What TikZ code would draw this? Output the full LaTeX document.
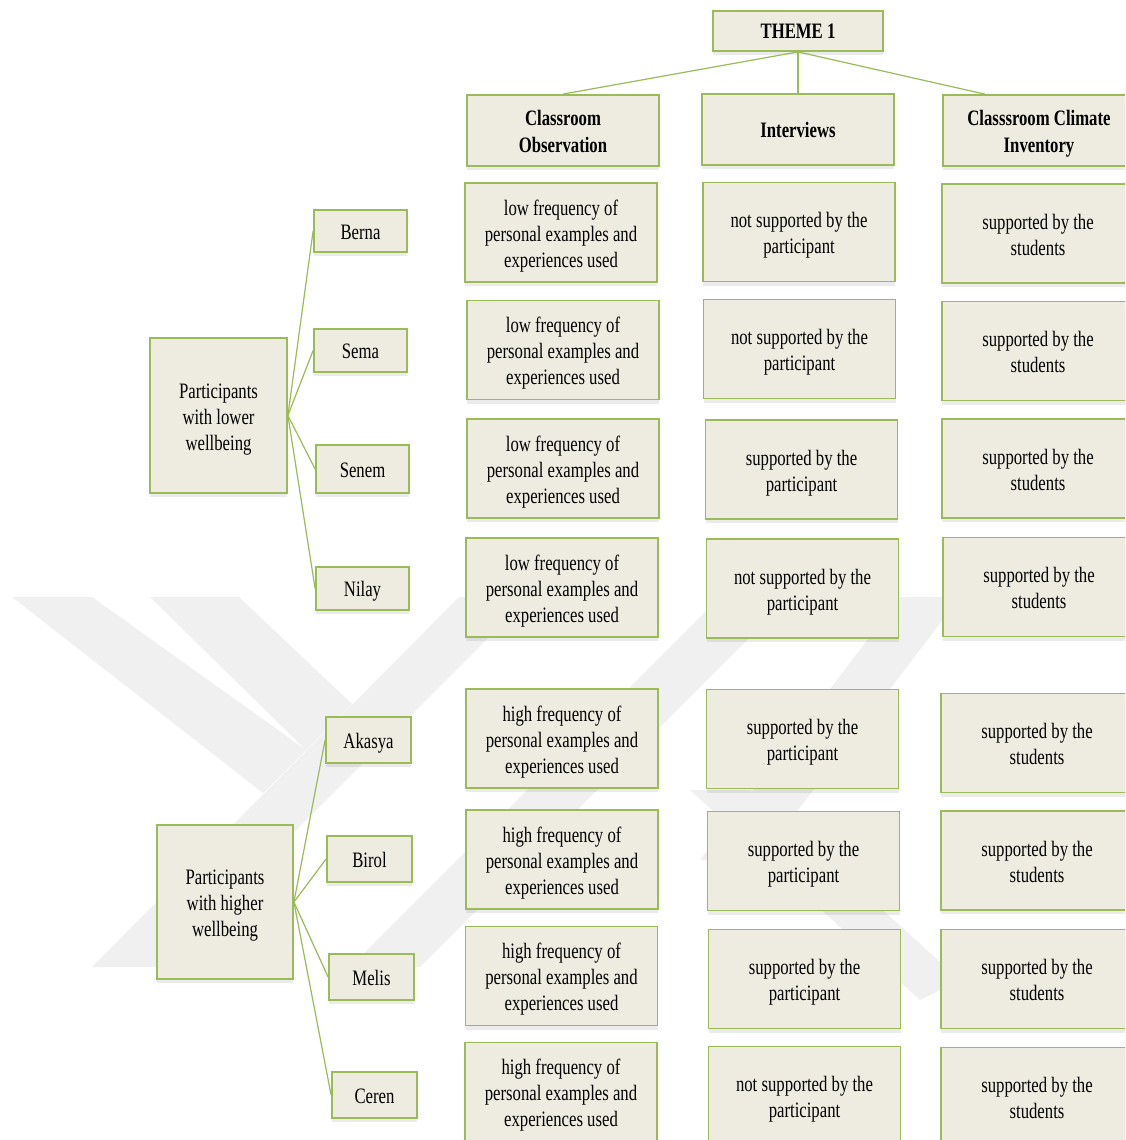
\documentclass[tikz,border=0pt]{standalone}
\usepackage{fontspec}
\setmainfont[FakeStretch=0.76]{Liberation Serif}
\usetikzlibrary{calc,shadows}
\definecolor{cellfill}{HTML}{EEECE1}
\definecolor{cellline}{HTML}{9BBB59}
\definecolor{markgray}{HTML}{F0F0F0}
% struts that fix the height of the first line and the depth of the last one
\newcommand\cellstrut{\rule{0pt}{24pt}}
\newcommand\headstrut{\rule{0pt}{23pt}}
\newcommand\cellend{\rule[-7pt]{0pt}{7pt}}

\begin{document}
\begin{tikzpicture}[x=1pt,y=-1pt,
  oneline/.style={execute at begin node={\rule{0pt}{#1}}, execute at end node={\cellend}},
  cell/.style={draw=cellline, line width=1.8pt, fill=cellfill, align=center,
    inner sep=0pt, minimum width=192pt, minimum height=99pt,
    font=\fontsize{22}{26}\selectfont,
    drop shadow={opacity=0.08, shadow xshift=0pt, shadow yshift=-4pt, fill=black}},
  headbox/.style={cell, minimum height=71pt, font=\bfseries\fontsize{22}{27}\selectfont},
  themebox/.style={cell, minimum width=170pt, minimum height=40pt, oneline=23pt,
    font=\bfseries\fontsize{22}{27}\selectfont},
  namebox/.style={cell, minimum width=93pt, minimum height=43pt, oneline=23.5pt},
  namebox2/.style={namebox, minimum width=85pt, minimum height=46pt},
  grpbox/.style={cell, minimum width=137pt, minimum height=155pt},
  link/.style={draw=cellline, line width=1.2pt},
  band/.style={fill=markgray, draw=none}]

% page frame
\useasboundingbox (0,0) rectangle (1125,1140);
\clip (0,0) rectangle (1125,1140);
\fill[white] (0,0) rectangle (1125,1140);

% faint logo in the background
\fill[band] (12,597) -- (92,597) -- (306,750) -- (263,793) -- cycle;
\fill[band] (150,597) -- (239,597) -- (352,704) -- (306,750) -- cycle;
\fill[band] (92,967) -- (159,967) -- (529,597) -- (459,597) -- cycle;
\fill[band] (350,967) -- (420,967) -- (790,597) -- (720,597) -- cycle;
\fill[band] (700,860) -- (760,860) -- (960,597) -- (900,597) -- cycle;
\fill[band] (690,790) -- (750,790) -- (960,980) -- (920,1000) -- cycle;

% theme and source headers
\node[themebox] (theme) at (798,31) {THEME 1};
\node[headbox] (obs) at (563,130.5) {\headstrut Classroom\\Observation\cellend};
\node[headbox, oneline=22pt] (int) at (798,129.5) {Interviews};
\node[headbox] (cci) at (1039,130.5) {\headstrut Classsroom Climate\\Inventory\cellend};
\coordinate (cciTop) at ($(cci.north west)!0.22!(cci.north east)$);

\draw[link] (theme.south) -- (obs.north);
\draw[link] (theme.south) -- (int.north);
\draw[link] (theme.south) -- (cciTop);

% participant groups
\node[grpbox] (low) at (218.5,415.5) {\cellstrut Participants\\with lower\\wellbeing\cellend};
\node[grpbox, minimum width=136pt, minimum height=154pt] (high) at (225,902) {\cellstrut Participants\\with higher\\wellbeing\cellend};

% participants
\node[namebox, minimum height=42pt] (berna) at (360.5,231) {Berna};
\node[namebox] (sema) at (360.5,350.5) {Sema};
\node[namebox, minimum height=48pt] (senem) at (362.5,469) {Senem};
\node[namebox] (nilay) at (362.5,588.5) {Nilay};
\node[namebox2] (akasya) at (368.5,740) {Akasya};
\node[namebox2] (birol) at (369.5,859) {Birol};
\node[namebox2] (melis) at (371.5,977) {Melis};
\node[namebox2] (ceren) at (374.5,1095) {Ceren};

\foreach \p in {berna,sema,senem,nilay}
  \draw[link] (low.east) -- (\p.west);
\foreach \p in {akasya,birol,melis,ceren}
  \draw[link] (high.east) -- (\p.west);

% classroom observation column
\node[cell] (o1) at (561,232.5) {\cellstrut low frequency of\\personal examples and\\experiences used\cellend};
\node[cell] (o2) at (563,350) {\cellstrut low frequency of\\personal examples and\\experiences used\cellend};
\node[cell] (o3) at (563,468.5) {\cellstrut low frequency of\\personal examples and\\experiences used\cellend};
\node[cell] (o4) at (562,587.5) {\cellstrut low frequency of\\personal examples and\\experiences used\cellend};
\node[cell] (o5) at (562,738.5) {\cellstrut high frequency of\\personal examples and\\experiences used\cellend};
\node[cell] (o6) at (562,859.5) {\cellstrut high frequency of\\personal examples and\\experiences used\cellend};
\node[cell] (o7) at (561.5,976) {\cellstrut high frequency of\\personal examples and\\experiences used\cellend};
\node[cell] (o8) at (561,1092) {\cellstrut high frequency of\\personal examples and\\experiences used\cellend};

% interview column
\node[cell] (i1) at (799,232) {\cellstrut not supported by the\\participant\cellend};
\node[cell] (i2) at (799.5,349) {\cellstrut not supported by the\\participant\cellend};
\node[cell] (i3) at (801.5,469.5) {\cellstrut supported by the\\participant\cellend};
\node[cell] (i4) at (802.5,588.5) {\cellstrut not supported by the\\participant\cellend};
\node[cell] (i5) at (802.5,739) {\cellstrut supported by the\\participant\cellend};
\node[cell] (i6) at (803.5,861) {\cellstrut supported by the\\participant\cellend};
\node[cell] (i7) at (804.5,979) {\cellstrut supported by the\\participant\cellend};
\node[cell] (i8) at (804.5,1096) {\cellstrut not supported by the\\participant\cellend};

% classroom climate inventory column
\node[cell] (c1) at (1038,233.5) {\cellstrut supported by the\\students\cellend};
\node[cell] (c2) at (1038,351) {\cellstrut supported by the\\students\cellend};
\node[cell] (c3) at (1038,468.5) {\cellstrut supported by the\\students\cellend};
\node[cell] (c4) at (1039,587) {\cellstrut supported by the\\students\cellend};
\node[cell] (c5) at (1037,743) {\cellstrut supported by the\\students\cellend};
\node[cell] (c6) at (1037,860.5) {\cellstrut supported by the\\students\cellend};
\node[cell] (c7) at (1037,979) {\cellstrut supported by the\\students\cellend};
\node[cell] (c8) at (1037,1097) {\cellstrut supported by the\\students\cellend};

\end{tikzpicture}
\end{document}
